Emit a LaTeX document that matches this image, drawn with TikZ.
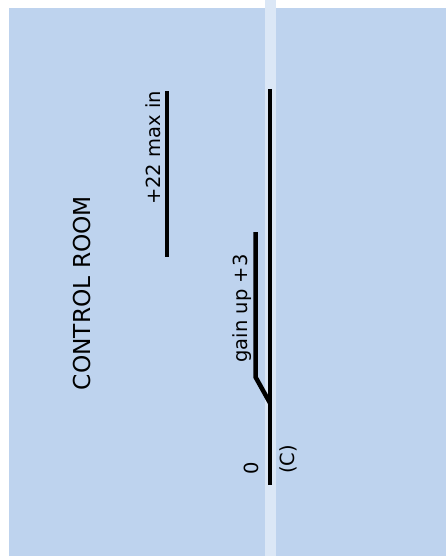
\documentclass[tikz,border=0pt]{standalone}
\usepackage{fontspec}
\setmainfont{DejaVu Sans}
\definecolor{bgblue}{HTML}{BED3EE}
\definecolor{stripe}{HTML}{DBE7F6}
\begin{document}
\begin{tikzpicture}[x=1pt,y=-1pt,
  wire/.style={line width=4.5pt,black},
  lbl/.style={rotate=90,anchor=base,inner sep=0pt,font=\fontsize{19.5}{23}\selectfont},
  ttl/.style={rotate=90,anchor=base,inner sep=0pt,font=\fontsize{23.3}{28}\selectfont}]
\useasboundingbox (0,0) rectangle (446,556);
\fill[white] (0,0) rectangle (446,556);
\fill[bgblue] (9,8) rectangle (446,556);
\fill[stripe] (265,0) rectangle (276,556);
% coordinates
\coordinate (mtop) at (270,89);
\coordinate (mbot) at (270,485);
\coordinate (ltop) at (167,91);
\coordinate (lbot) at (167,257);
\coordinate (gtop) at (255.5,232);
\coordinate (gknee) at (255.5,377);
\coordinate (gjoin) at (270,403);
\draw[wire] (mtop) -- (mbot);
\draw[wire] (ltop) -- (lbot);
\draw[wire] (gtop) -- (gknee) -- (gjoin);
% labels
\node[ttl] (title) at (90.7,293) {CONTROL ROOM};
\node[lbl] (maxin) at (160,148) {+22 max in};
\node[lbl] (gain) at (247,308.5) {gain up +3};
\node[lbl] (zero) at (258,468.5) {0};
\node[lbl] (cee) at (294,459.5) {(C)};
\end{tikzpicture}
\end{document}
